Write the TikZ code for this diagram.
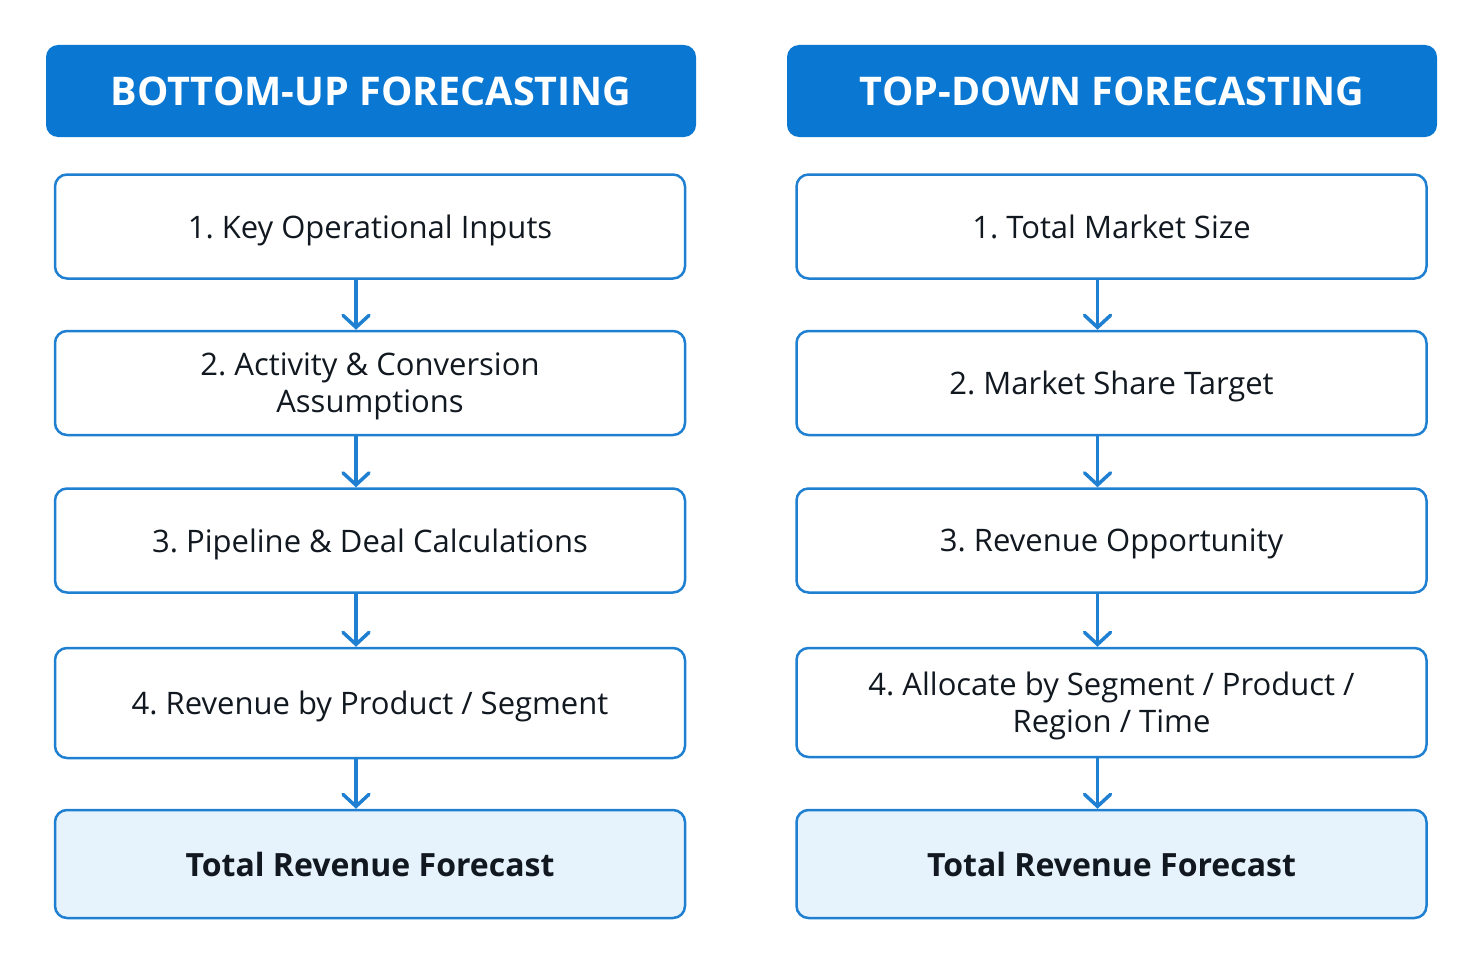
\documentclass[tikz,border=0pt]{standalone}
\usepackage{fontspec}
\setmainfont{Open Sans}
\usetikzlibrary{arrows.meta}
\definecolor{hdblue}{HTML}{0A78D2}
\definecolor{bdblue}{HTML}{1F80D2}
\definecolor{lightblue}{HTML}{E6F2FC}
\definecolor{txt}{HTML}{111820}
\tikzset{
	header/.style={fill=hdblue, rounded corners=12pt, minimum width=650pt, minimum height=92pt, text=white, font=\fontsize{39.5}{46}\selectfont\bfseries},
	stepbox/.style={draw=bdblue, line width=2.5pt, fill=white, rounded corners=12pt, minimum width=630pt, minimum height=104pt, align=center, text depth=0pt, text=txt, font=\fontsize{31}{37}\selectfont},
	totalbox/.style={stepbox, fill=lightblue, font=\fontsize{32}{40}\selectfont\bfseries},
	flow/.style={draw=bdblue, line width=3.5pt, line cap=round, -{Straight Barb[length=12pt,width=26pt,line cap=round]}}
}
\begin{document}
\frenchspacing
\begin{tikzpicture}[x=1pt,y=-1pt]
	\def\xl{370} \def\xr{1111.5} % centres of the two columns
	\useasboundingbox (0,0) rectangle (1482,966);
	% Bottom-up
	\node[header] (bu) at (371,91) {BOTTOM-UP FORECASTING};
	\node[stepbox] (bu1) at (\xl,226.5) {1. Key Operational Inputs};
	\node[stepbox] (bu2) at (\xl,383) {2. Activity \& Conversion\\Assumptions};
	\node[stepbox] (bu3) at (\xl,540.5) {3. Pipeline \& Deal Calculations};
	\node[stepbox, minimum height=110pt] (bu4) at (\xl,703) {4. Revenue by Product / Segment};
	\node[totalbox, minimum height=108pt] (bu5) at (\xl,864) {Total Revenue Forecast};
	% Top-down
	\node[header] (td) at (1112,91) {TOP-DOWN FORECASTING};
	\node[stepbox] (td1) at (\xr,226.5) {1. Total Market Size};
	\node[stepbox] (td2) at (\xr,383) {2. Market Share Target};
	\node[stepbox] (td3) at (\xr,540.5) {3. Revenue Opportunity};
	\node[stepbox, minimum height=109pt] (td4) at (\xr,702.5) {4. Allocate by Segment / Product /\\Region / Time};
	\node[totalbox, minimum height=108pt] (td5) at (\xr,864) {Total Revenue Forecast};
	% arrows
	\foreach \c in {bu,td}
	\foreach \i/\j in {1/2,2/3,3/4,4/5}
	\draw[flow] ([xshift=-14pt]\c\i.south) -- ([xshift=-14pt]\c\j.north);
\end{tikzpicture}
\end{document}
